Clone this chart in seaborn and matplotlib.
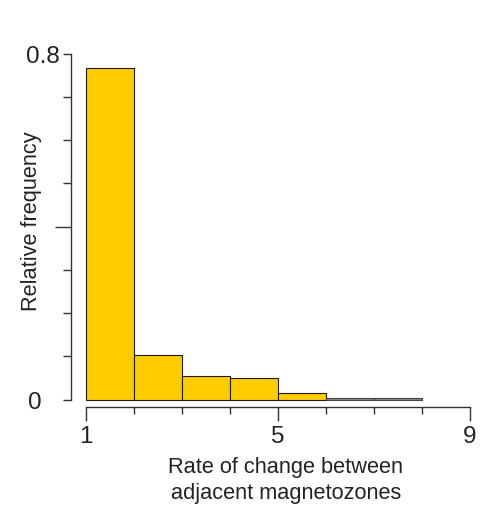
import matplotlib
matplotlib.use("Agg")
import matplotlib.pyplot as plt
import seaborn as sns

# Relative frequency of each rate-of-change class (bins of width 1)
bin_edges = [1, 2, 3, 4, 5, 6, 7, 8]
rel_freq = [0.768, 0.103, 0.054, 0.049, 0.015, 0.005, 0.005]
x_ticks = [1, 2, 3, 4, 5, 6, 7, 8, 9]
x_labels = ["1", "", "", "", "5", "", "", "", "9"]
y_ticks = [0.0, 0.1, 0.2, 0.3, 0.4, 0.5, 0.6, 0.7, 0.8]
y_labels = ["0", "", "", "", "", "", "", "", "0.8"]

sns.set_style("ticks")
plt.rcParams["font.family"] = ["Liberation Sans", "DejaVu Sans"]

fig = plt.figure(figsize=(4.92, 5.06), dpi=100)
ax = fig.add_axes([0.1449, 0.1931, 0.8396, 0.7261])

centers = [(a + b) / 2 for a, b in zip(bin_edges[:-1], bin_edges[1:])]
sns.histplot(x=centers, weights=rel_freq, bins=bin_edges, stat="count",
             color="#FFCC00", edgecolor="#1a1a1a", linewidth=0.8, alpha=1,
             ax=ax)
# the sparse upper classes are shown in grey
for patch in ax.patches[5:]:
    patch.set_facecolor("#8a8a8a")
    patch.set_edgecolor("#444444")

ax.set_xlim(0.7, 9.3)
ax.set_ylim(-0.0176, 0.832)

for side in ("top", "right"):
    ax.spines[side].set_visible(False)
ax.spines["left"].set_bounds(0, 0.8)
ax.spines["bottom"].set_bounds(1, 9)
for side in ("left", "bottom"):
    ax.spines[side].set_color("#333333")
    ax.spines[side].set_linewidth(1.0)

ax.set_xticks(x_ticks)
ax.set_xticklabels(x_labels)
ax.set_yticks(y_ticks)
ax.set_yticklabels(y_labels)
ax.tick_params(axis="both", labelsize=17.5, colors="#333333",
               labelcolor="#222222", width=1.0)
ax.tick_params(axis="x", length=5, pad=8)
ax.tick_params(axis="y", length=5.8, pad=2.8)

# longer ticks at the labelled x positions and at 0 / 0.4 on y
for t, v in zip(ax.xaxis.get_major_ticks(), x_ticks):
    if v in (1, 5, 9):
        t.tick1line.set_markersize(10)
for t, v in zip(ax.yaxis.get_major_ticks(), y_ticks):
    if v in (0.0, 0.4):
        t.tick1line.set_markersize(11.5)
ax.yaxis.get_major_ticks()[0].set_pad(15.8)

ax.set_xlabel("Rate of change between\nadjacent magnetozones", fontsize=15.7,
              color="#222222", linespacing=1.35)
ax.xaxis.set_label_coords(0.5197, -0.1317, transform=ax.transAxes)
ax.xaxis.label.set_va("top")
ax.set_ylabel("Relative frequency", fontsize=15.7, color="#222222")
ax.yaxis.set_label_coords(-0.072, 0.51)

fig.savefig("out.png", dpi=100)
